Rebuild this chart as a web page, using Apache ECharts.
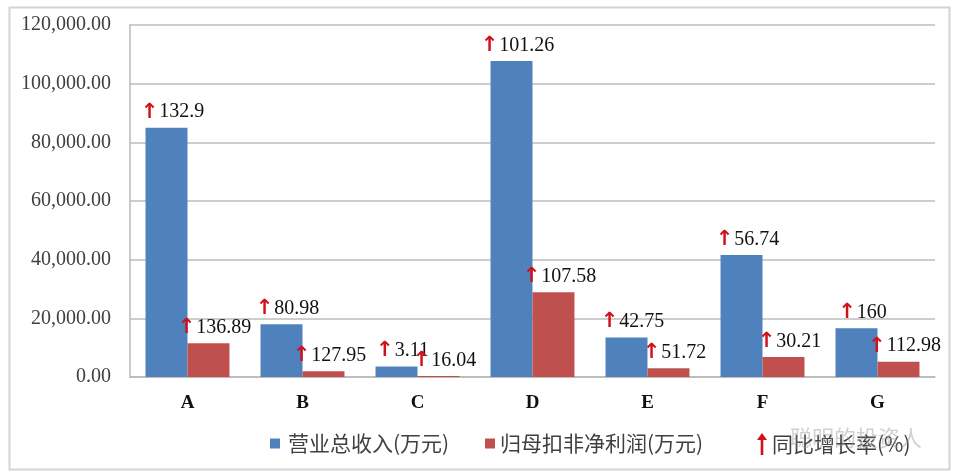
<!DOCTYPE html>
<html>
<head>
<meta charset="utf-8">
<script src="https://cdn.jsdelivr.net/npm/echarts@6/dist/echarts.min.js"></script>
<style>
html,body{margin:0;padding:0;background:#fff;}
#chart{width:955px;height:472px;}
</style>
</head>
<body>
<div id="chart"></div>
<script>
var categories = ['A', 'B', 'C', 'D', 'E', 'F', 'G'];
var revenue = [85000, 18000, 3600, 107700, 13500, 41600, 16600];
var netProfit = [11500, 2000, 300, 28900, 3000, 6800, 5200];
var revenueGrowth = ['132.9', '80.98', '3.11', '101.26', '42.75', '56.74', '160'];
var profitGrowth = ['136.89', '127.95', '16.04', '107.58', '51.72', '30.21', '112.98'];
var yTicks = [0, 20000, 40000, 60000, 80000, 100000, 120000];
var seriesNames = ['营业总收入(万元)', '归母扣非净利润(万元)', '同比增长率(%)'];

var serif = '"Liberation Serif", "Times New Roman", serif';
var cjk = '"Noto Sans CJK SC", sans-serif';
var arrowPath = 'path://M5,0 L10,7 L6.3,7 L6.3,22 L3.7,22 L3.7,7 L0,7 Z';

function growthLabel(arr) {
  return {
    show: true,
    position: 'top',
    distance: 5,
    offset: [6, 0],
    formatter: function (p) { return '{a|↑}{b|' + arr[p.dataIndex] + '}'; },
    rich: {
      a: { color: '#d0101b', fontSize: 21, fontWeight: 'bold', fontFamily: 'DejaVu Sans', padding: [0, 1, 0, 0] },
      b: { color: '#111', fontSize: 20, fontFamily: serif }
    }
  };
}

var chart = echarts.init(document.getElementById('chart'));
chart.setOption({
  animation: false,
  backgroundColor: '#fff',
  grid: { left: 130, right: 20, top: 25, bottom: 95, containLabel: false },
  legend: [
    { left: 265, top: 428, itemWidth: 10, itemHeight: 10, icon: 'rect', data: [seriesNames[0]],
      textStyle: { fontFamily: cjk, fontSize: 21, color: '#404040', padding: [0, 0, 0, 3] } },
    { left: 480, top: 428, itemWidth: 10, itemHeight: 10, icon: 'rect', data: [seriesNames[1]],
      textStyle: { fontFamily: cjk, fontSize: 21, color: '#404040', padding: [0, 0, 0, 0] } },
    { left: 752, top: 428, itemWidth: 10, itemHeight: 22, icon: arrowPath, data: [seriesNames[2]],
      textStyle: { fontFamily: cjk, fontSize: 21, color: '#404040', padding: [0, 0, 0, 0] } }
  ],
  xAxis: {
    type: 'category',
    data: categories,
    axisLine: { lineStyle: { color: '#b8b8b8', width: 1.5 } },
    axisTick: { show: false },
    axisLabel: { fontFamily: serif, fontSize: 19, fontWeight: 'bold', color: '#111', margin: 17 }
  },
  yAxis: {
    type: 'value',
    min: yTicks[0],
    max: yTicks[yTicks.length - 1],
    interval: yTicks[1] - yTicks[0],
    axisLine: { show: true, lineStyle: { color: '#b8b8b8', width: 1.5 } },
    axisTick: { show: false },
    splitLine: { lineStyle: { color: '#bdbdbd', width: 1.5 } },
    axisLabel: {
      fontFamily: serif, fontSize: 20, color: '#404040', margin: 19,
      formatter: function (v) {
        return v.toLocaleString('en-US', { minimumFractionDigits: 2, maximumFractionDigits: 2 });
      }
    }
  },
  series: [
    { name: seriesNames[0], type: 'bar', data: revenue, barGap: '0%', barCategoryGap: '27%',
      itemStyle: { color: '#4f81bd' }, label: growthLabel(revenueGrowth) },
    { name: seriesNames[1], type: 'bar', data: netProfit,
      itemStyle: { color: '#c0504d' }, label: growthLabel(profitGrowth) },
    { name: seriesNames[2], type: 'line', data: [], itemStyle: { color: '#d0101b' }, lineStyle: { color: '#d0101b' } }
  ],
  graphic: [
    { type: 'rect', left: 7, top: 5, shape: { x: 0, y: 0, width: 940, height: 462 },
      style: { fill: 'none', stroke: '#d4d4d4', lineWidth: 2 }, silent: true, z: 100 },
    { type: 'text', left: 790, top: 427, silent: true, z: 100,
      style: { text: '聪明的投资人', font: '22px "Noto Sans CJK SC"', fill: 'rgba(150,150,150,0.45)' } }
  ]
});
</script>
</body>
</html>
